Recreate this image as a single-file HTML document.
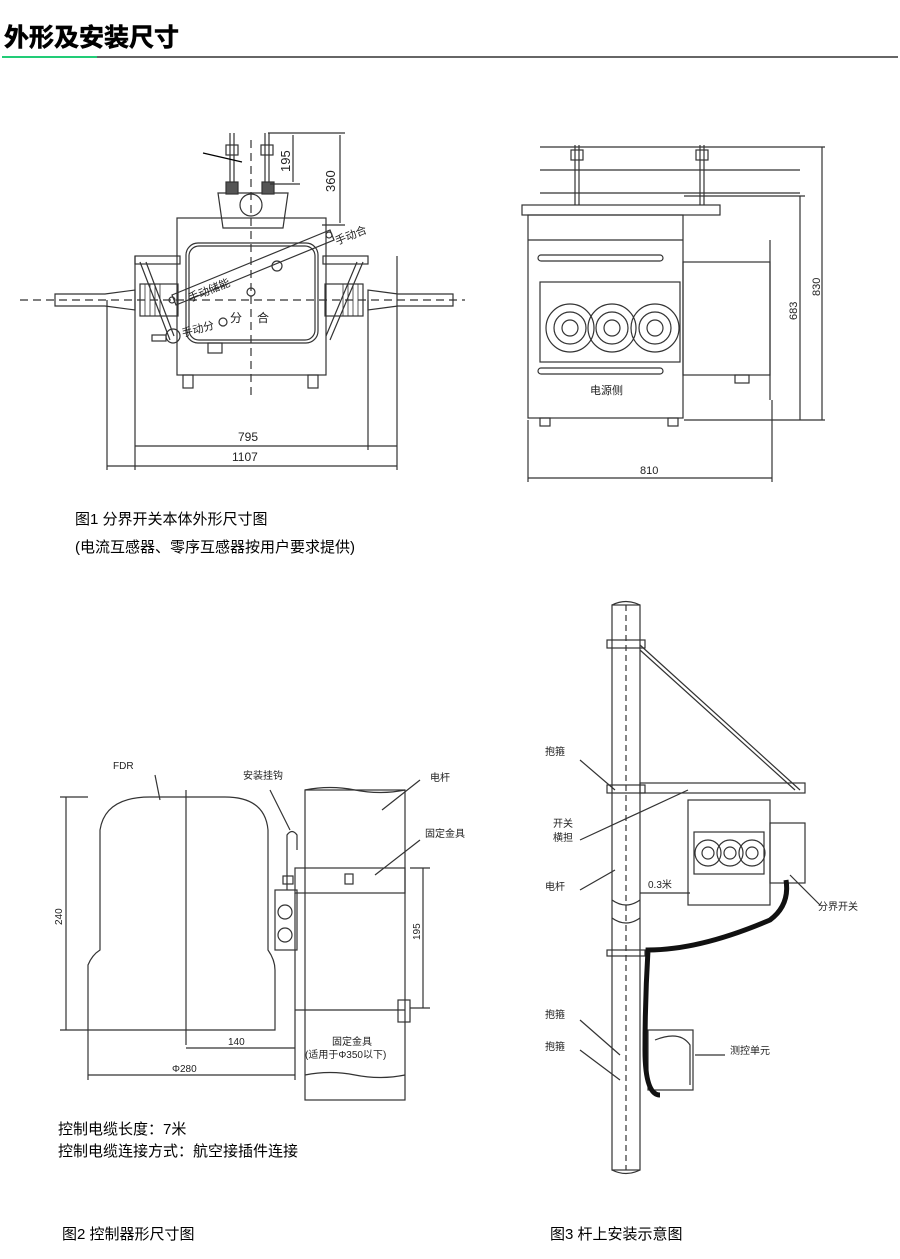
<!DOCTYPE html>
<html><head><meta charset="utf-8"><style>
body{margin:0;background:#fff;}
svg{display:block;font-family:"Liberation Sans","Noto Sans CJK SC",sans-serif;}
</style></head><body>
<svg width="900" height="1259" viewBox="0 0 900 1259" xmlns="http://www.w3.org/2000/svg">
<text x="4" y="46" font-size="25" font-weight="bold" fill="#000" stroke="#000" stroke-width="0.6">外形及安装尺寸</text>
<line x1="2" y1="57" x2="97" y2="57" stroke="#22cc77" stroke-width="2"/>
<line x1="97" y1="57" x2="898" y2="57" stroke="#666" stroke-width="2"/>

<g stroke="#333" stroke-width="1.2" fill="none">
<!-- FIG1 LEFT -->
<line x1="20" y1="300" x2="465" y2="300" stroke-dasharray="8,5"/>
<line x1="251" y1="140" x2="251" y2="395" stroke-dasharray="8,5"/>
<path d="M55 294 H105 L135 290 V310 L105 306 H55 Z"/>
<path d="M453 294 H398 L368 290 V310 L398 306 H453 Z"/>
<rect x="140" y="284" width="38" height="32"/>
<rect x="325" y="284" width="38" height="32"/>
<g stroke-width="0.8"><line x1="145" y1="284" x2="145" y2="316"/><line x1="150" y1="284" x2="150" y2="316"/><line x1="155" y1="284" x2="155" y2="316"/><line x1="160" y1="284" x2="160" y2="316"/><line x1="343" y1="284" x2="343" y2="316"/><line x1="348" y1="284" x2="348" y2="316"/><line x1="353" y1="284" x2="353" y2="316"/><line x1="358" y1="284" x2="358" y2="316"/></g>
<rect x="135" y="256" width="45" height="8"/><rect x="323" y="256" width="45" height="8"/>
<line x1="135" y1="256" x2="135" y2="470"/><line x1="397" y1="256" x2="397" y2="470"/>
<line x1="107" y1="300" x2="107" y2="470"/><line x1="368" y1="300" x2="368" y2="450"/>
<line x1="140" y1="262" x2="170" y2="340"/><line x1="146" y1="262" x2="174" y2="336"/>
<line x1="363" y1="262" x2="330" y2="340"/><line x1="357" y1="262" x2="326" y2="336"/>
<rect x="177" y="218" width="149" height="157"/>
<rect x="186" y="243" width="132" height="100" rx="12"/>
<rect x="189" y="246" width="126" height="94" rx="10"/>
<path d="M218 193 H288 L283 228 H223 Z"/>
<circle cx="251" cy="205" r="11"/>
<rect x="226" y="182" width="12" height="12" fill="#555"/><rect x="262" y="182" width="12" height="12" fill="#555"/>
<line x1="230" y1="133" x2="230" y2="182"/><line x1="234" y1="133" x2="234" y2="182"/>
<line x1="265" y1="133" x2="265" y2="182"/><line x1="269" y1="133" x2="269" y2="182"/>
<rect x="226" y="145" width="12" height="10"/><rect x="261" y="145" width="12" height="10"/>
<line x1="203" y1="153" x2="242" y2="162" stroke="#000"/>
<rect x="183" y="375" width="10" height="13"/><rect x="308" y="375" width="10" height="13"/>
<rect x="208" y="343" width="14" height="10"/>
<path d="M172 295 L330 230 L334 240 L176 305 Z"/>
<circle cx="277" cy="266" r="5"/><circle cx="329" cy="235" r="3"/><circle cx="172" cy="300" r="3"/>
<circle cx="173" cy="336" r="7"/><circle cx="223" cy="322" r="4"/><circle cx="251" cy="292" r="4"/>
<rect x="152" y="335" width="14" height="6"/>
<line x1="268" y1="133" x2="345" y2="133"/><line x1="270" y1="184" x2="300" y2="184"/><line x1="322" y1="225" x2="345" y2="225"/>
<line x1="293" y1="135" x2="293" y2="182"/><line x1="340" y1="135" x2="340" y2="223"/>
<line x1="135" y1="446" x2="397" y2="446"/><line x1="107" y1="466" x2="397" y2="466"/>

<!-- FIG1 RIGHT -->
<line x1="540" y1="170" x2="800" y2="170"/><line x1="540" y1="193" x2="800" y2="193"/><line x1="540" y1="147" x2="825" y2="147"/>
<line x1="575" y1="145" x2="575" y2="205"/><line x1="579" y1="145" x2="579" y2="205"/>
<line x1="700" y1="145" x2="700" y2="205"/><line x1="704" y1="145" x2="704" y2="205"/>
<rect x="571" y="150" width="12" height="10"/><rect x="696" y="150" width="12" height="10"/>
<rect x="522" y="205" width="198" height="10"/>
<rect x="528" y="215" width="155" height="203"/>
<line x1="528" y1="240" x2="683" y2="240"/>
<rect x="538" y="255" width="125" height="6" rx="3"/>
<rect x="538" y="368" width="125" height="6" rx="3"/>
<rect x="540" y="282" width="140" height="80"/>
<circle cx="570" cy="328" r="24"/><circle cx="570" cy="328" r="16"/><circle cx="570" cy="328" r="8"/>
<circle cx="612" cy="328" r="24"/><circle cx="612" cy="328" r="16"/><circle cx="612" cy="328" r="8"/>
<circle cx="655" cy="328" r="24"/><circle cx="655" cy="328" r="16"/><circle cx="655" cy="328" r="8"/>
<rect x="683" y="262" width="87" height="113"/>
<rect x="735" y="375" width="14" height="8"/>
<line x1="770" y1="240" x2="770" y2="400"/>
<rect x="540" y="418" width="10" height="8"/><rect x="668" y="418" width="10" height="8"/>
<line x1="684" y1="196" x2="805" y2="196"/><line x1="684" y1="420" x2="825" y2="420"/>
<line x1="800" y1="196" x2="800" y2="420"/><line x1="822" y1="147" x2="822" y2="420"/>
<line x1="528" y1="420" x2="528" y2="482"/><line x1="772" y1="400" x2="772" y2="482"/>
<line x1="528" y1="478" x2="772" y2="478"/>

<!-- FIG2 -->
<path d="M88 1030 V965 Q92 955 100 950 V830 Q105 797 150 797 H225 Q265 797 268 830 V950 Q275 960 275 970 V1030 Z"/>
<line x1="186" y1="790" x2="186" y2="1045"/>
<rect x="305" y="790" width="100" height="310"/>
<path d="M305 790 Q330 785 355 790 Q380 795 405 790" />
<path d="M305 1075 Q330 1070 355 1075 Q380 1080 405 1075"/>
<rect x="295" y="868" width="110" height="25"/>
<rect x="345" y="874" width="8" height="10"/>
<rect x="275" y="890" width="22" height="60"/>
<circle cx="285" cy="912" r="7"/><circle cx="285" cy="935" r="7"/>
<path d="M287 890 V835 Q292 828 297 835 V850"/>
<rect x="283" y="876" width="10" height="8"/>
<line x1="295" y1="893" x2="295" y2="1010"/><line x1="295" y1="1010" x2="405" y2="1010"/>
<rect x="398" y="1000" width="12" height="22"/>
<line x1="60" y1="797" x2="88" y2="797"/><line x1="60" y1="1030" x2="88" y2="1030"/><line x1="66" y1="797" x2="66" y2="1030"/>
<line x1="410" y1="868" x2="430" y2="868"/><line x1="410" y1="1008" x2="430" y2="1008"/><line x1="423" y1="868" x2="423" y2="1008"/>
<line x1="186" y1="1048" x2="295" y2="1048"/><line x1="88" y1="1075" x2="295" y2="1075"/>
<line x1="88" y1="1030" x2="88" y2="1080"/><line x1="295" y1="1010" x2="295" y2="1080"/>
<line x1="160" y1="800" x2="155" y2="775"/><line x1="290" y1="830" x2="270" y2="790"/>
<line x1="382" y1="810" x2="420" y2="780"/><line x1="375" y1="875" x2="420" y2="840"/>

<!-- FIG3 -->
<rect x="612" y="605" width="28" height="565"/>
<path d="M612 605 Q626 598 640 605"/><path d="M612 1170 Q626 1177 640 1170"/>
<path d="M612 900 Q626 910 640 900"/><path d="M612 918 Q626 928 640 918"/>
<line x1="626" y1="605" x2="626" y2="1170" stroke-dasharray="6,4"/>
<rect x="607" y="640" width="38" height="8"/>
<rect x="607" y="785" width="38" height="8"/>
<rect x="607" y="950" width="38" height="6"/>
<line x1="640" y1="645" x2="800" y2="790"/><line x1="640" y1="650" x2="795" y2="790"/>
<rect x="640" y="783" width="165" height="10"/>
<rect x="688" y="800" width="82" height="105"/>
<rect x="694" y="832" width="70" height="42"/>
<circle cx="708" cy="853" r="13"/><circle cx="730" cy="853" r="13"/><circle cx="752" cy="853" r="13"/>
<circle cx="708" cy="853" r="6"/><circle cx="730" cy="853" r="6"/><circle cx="752" cy="853" r="6"/>
<rect x="770" y="823" width="35" height="60"/>
<rect x="648" y="1030" width="45" height="60"/>
<path d="M655 1040 Q680 1030 690 1045 V1085"/>
<line x1="580" y1="760" x2="615" y2="790"/><line x1="580" y1="840" x2="688" y2="790"/>
<line x1="580" y1="890" x2="615" y2="870"/><line x1="580" y1="1020" x2="620" y2="1055"/>
<line x1="580" y1="1050" x2="620" y2="1080"/><line x1="695" y1="1055" x2="725" y2="1055"/>
<line x1="790" y1="875" x2="820" y2="905"/>
<line x1="640" y1="893" x2="690" y2="893"/>
</g>
<path d="M786 880 Q790 905 770 920 Q700 950 648 950 Q645 1000 645 1050 Q645 1095 660 1095" stroke="#111" stroke-width="5" fill="none"/>

<g font-size="11" fill="#222">
<text transform="translate(290 172) rotate(-90)" font-size="13">195</text>
<text transform="translate(335 192) rotate(-90)" font-size="13">360</text>
<text x="238" y="441" font-size="12">795</text>
<text x="232" y="461" font-size="12">1107</text>
<text transform="translate(337 245) rotate(-22)">手动合</text>
<text transform="translate(190 302) rotate(-22)">手动储能</text>
<text transform="translate(183 337) rotate(-15)">手动分</text>
<text x="230" y="322" font-size="12">分</text><text x="257" y="322" font-size="12">合</text>
<text x="590" y="394">电源侧</text>
<text transform="translate(797 320) rotate(-90)">683</text>
<text transform="translate(820 296) rotate(-90)">830</text>
<text x="640" y="474">810</text>
<text x="75" y="524" font-size="15" fill="#000">图1 分界开关本体外形尺寸图</text>
<text x="75" y="552" font-size="15" fill="#000">(电流互感器、零序互感器按用户要求提供)</text>
<text x="113" y="769" font-size="10">FDR</text>
<text x="243" y="779" font-size="10">安装挂钩</text>
<text x="430" y="781" font-size="10">电杆</text>
<text x="425" y="837" font-size="10">固定金具</text>
<text transform="translate(62 925) rotate(-90)" font-size="10">240</text>
<text transform="translate(420 940) rotate(-90)" font-size="10">195</text>
<text x="228" y="1045" font-size="10">140</text>
<text x="172" y="1072" font-size="10">Φ280</text>
<text x="332" y="1045" font-size="10">固定金具</text>
<text x="305" y="1058" font-size="10">(适用于Φ350以下)</text>
<text x="58" y="1134" font-size="15" fill="#000">控制电缆长度：7米</text>
<text x="58" y="1156" font-size="15" fill="#000">控制电缆连接方式：航空接插件连接</text>
<text x="62" y="1239" font-size="15" fill="#000">图2 控制器形尺寸图</text>
<text x="545" y="755" font-size="10">抱箍</text>
<text x="553" y="827" font-size="10">开关</text>
<text x="553" y="841" font-size="10">横担</text>
<text x="545" y="890" font-size="10">电杆</text>
<text x="648" y="888" font-size="10">0.3米</text>
<text x="818" y="910" font-size="10">分界开关</text>
<text x="545" y="1018" font-size="10">抱箍</text>
<text x="545" y="1050" font-size="10">抱箍</text>
<text x="730" y="1054" font-size="10">测控单元</text>
<text x="550" y="1239" font-size="15" fill="#000">图3 杆上安装示意图</text>
</g>
</svg>
</body></html>
